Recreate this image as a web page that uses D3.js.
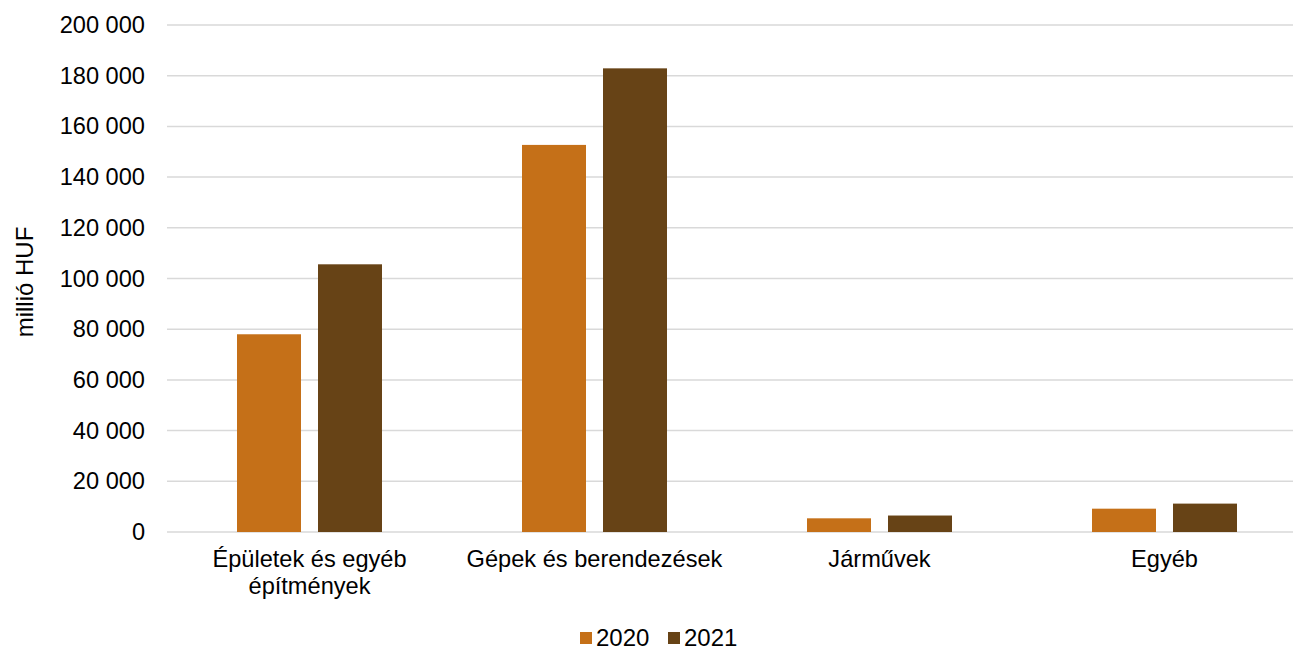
<!DOCTYPE html>
<html>
<head>
<meta charset="utf-8">
<script src="https://cdn.jsdelivr.net/npm/d3@7"></script>
<style>
  body { margin: 0; background: #fff; }
  svg { font-family: "Liberation Sans", Arial, sans-serif; }
</style>
</head>
<body>
<div id="chart"></div>
<script>
const categories = [['Épületek és egyéb', 'építmények'], ['Gépek és berendezések'], ['Járművek'], ['Egyéb']];
const seriesNames = ['2020', '2021'];
const values2020 = [78000, 152700, 5400, 9200];
const values2021 = [105600, 182900, 6500, 11200];
const yTicks = [0, 20000, 40000, 60000, 80000, 100000, 120000, 140000, 160000, 180000, 200000];
const colors = ['#c57018', '#674316'];

const width = 1293;
const height = 651;
const margin = { top: 25, bottom: 119, left: 167, right: -14 };
const fs = '23.6px';

const svg = d3.select('#chart')
  .append('svg')
  .attr('width', width)
  .attr('height', height);

const x0 = d3.scaleBand()
  .domain(d3.range(categories.length))
  .range([margin.left, width - margin.right])
  .padding(0);

const x1 = d3.scaleBand()
  .domain(seriesNames)
  .range([70, 215])
  .paddingInner(0.21);

const y = d3.scaleLinear()
  .domain([0, 200000])
  .range([height - margin.bottom, margin.top]);

// grid
svg.append('g')
  .selectAll('line')
  .data(yTicks)
  .join('line')
    .attr('x1', margin.left)
    .attr('x2', width - margin.right)
    .attr('y1', d => y(d))
    .attr('y2', d => y(d))
    .attr('stroke', '#d9d9d9')
    .attr('stroke-width', 1.5);

const fmt = d => d3.format(',')(d).replace(/,/g, ' ');

const yAxis = svg.append('g')
  .attr('transform', `translate(${margin.left},0)`)
  .call(d3.axisLeft(y).tickValues(yTicks).tickFormat(fmt).tickSize(0).tickPadding(22));
yAxis.select('.domain').remove();
yAxis.selectAll('text').attr('font-size', fs).attr('fill', '#000').attr('font-family', '"Liberation Sans", Arial, sans-serif');

const series = [values2020, values2021];
const groups = svg.append('g')
  .selectAll('g')
  .data(categories.map((c, i) => i))
  .join('g')
    .attr('transform', i => `translate(${x0(i)},0)`);

groups.selectAll('rect')
  .data(i => seriesNames.map((s, k) => ({ s, k, v: series[k][i] })))
  .join('rect')
    .attr('x', d => x1(d.s))
    .attr('y', d => y(d.v))
    .attr('width', x1.bandwidth())
    .attr('height', d => y(0) - y(d.v))
    .attr('fill', d => colors[d.k]);

// category labels
const xl = svg.append('g');
categories.forEach((lines, i) => {
  const t = xl.append('text')
    .attr('x', x0(i) + x0.bandwidth() / 2)
    .attr('y', 567)
    .attr('text-anchor', 'middle')
    .attr('font-size', fs)
    .attr('fill', '#000');
  lines.forEach((l, j) => {
    t.append('tspan').attr('x', x0(i) + x0.bandwidth() / 2).attr('dy', j === 0 ? 0 : 27).text(l);
  });
});

// y title
svg.append('text')
  .attr('transform', 'translate(33,282) rotate(-90)')
  .attr('text-anchor', 'middle')
  .attr('font-size', '24px')
  .attr('fill', '#000')
  .text('millió HUF');

// legend
const legend = svg.append('g').attr('transform', 'translate(580,638)');
const lx = [0, 88];
seriesNames.forEach((s, k) => {
  legend.append('rect')
    .attr('x', lx[k])
    .attr('y', -6)
    .attr('width', 12)
    .attr('height', 12)
    .attr('fill', colors[k]);
  legend.append('text')
    .attr('x', lx[k] + 16)
    .attr('y', 8)
    .attr('font-size', '24px')
    .attr('fill', '#000')
    .text(s);
});
</script>
</body>
</html>
